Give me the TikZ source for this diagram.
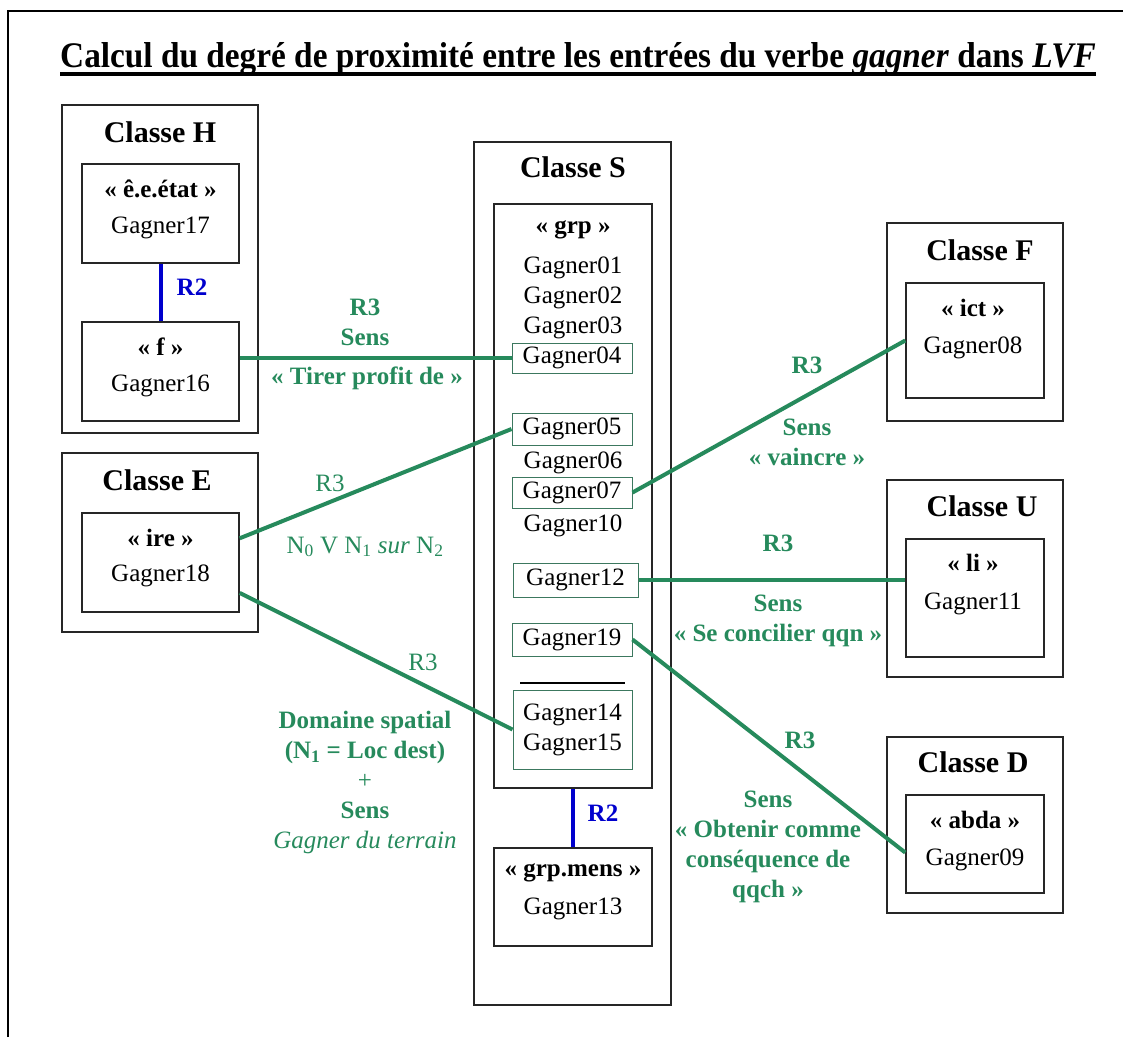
\documentclass[tikz,border=0pt]{standalone}
\usepackage{fontspec}
\usepackage{graphicx}
\setmainfont{Liberation Serif}
\usetikzlibrary{positioning}
\definecolor{relgreen}{RGB}{38,138,92}
\definecolor{relblue}{RGB}{0,0,205}
\definecolor{entbord}{RGB}{60,120,95}
\tikzset{
  clsbox/.style={draw=black!85, line width=1.5pt, inner sep=0pt},
  entbox/.style={draw=entbord, line width=1pt, inner sep=0pt, font=\fontsize{25}{30}\selectfont},
  txt/.style={font=\fontsize{25}{30}\selectfont, inner sep=0pt},
  stereo/.style={font=\bfseries\fontsize{25}{30}\selectfont, inner sep=0pt},
  clstitle/.style={font=\bfseries\fontsize{30}{34}\selectfont, inner sep=0pt},
  rlab/.style={text=relgreen, font=\bfseries\fontsize{25}{30}\selectfont, align=center, inner sep=0pt},
  rlabm/.style={rlab, font=\fontsize{25}{30}\selectfont},
  blab/.style={text=relblue, font=\bfseries\fontsize{25}{30}\selectfont, inner sep=0pt},
  rel/.style={draw=relgreen, line width=4pt},
  rtwo/.style={draw=relblue, line width=4pt},
}
\begin{document}
\begin{tikzpicture}[x=1pt,y=-1pt]
\useasboundingbox (0,0) rectangle (1123,1037);
\draw[line width=1.5pt] (8,1037) -- (8,11) -- (1123,11);

% title
\node[font=\bfseries\fontsize{36}{40}\selectfont, inner sep=0pt, anchor=base] (title) at (578,67)
  {\scalebox{0.925}[1]{Calcul du degré de proximité entre les entrées du verbe \textit{gagner} dans \textit{LVF}}};
\draw[line width=3.5pt] ([yshift=-7pt]title.base west) -- ([yshift=-7pt]title.base east);

% classe H
\node[clsbox, minimum width=196pt, minimum height=328pt] (clsH) at (160,269) {};
\node[clstitle] (tH) at (160,132) {Classe H};
\node[clsbox, minimum width=157pt, minimum height=99pt] (H1) at (160.5,213.5) {};
\node[stereo] (sH1) at (160.5,189) {« ê.e.état »};
\node[txt] (g17) at (160.5,228) {Gagner17};
\node[clsbox, minimum width=157pt, minimum height=99pt] (H2) at (160.5,371.5) {};
\node[stereo] (sH2) at (160.5,347) {« f »};
\node[txt] (g16) at (160.5,386) {Gagner16};

% classe E
\node[clsbox, minimum width=196pt, minimum height=179pt] (clsE) at (160,542.5) {};
\node[clstitle] (tE) at (157,480) {Classe E};
\node[clsbox, minimum width=157pt, minimum height=99pt] (E1) at (160.5,562.5) {};
\node[stereo] (sE1) at (160.5,538) {« ire »};
\node[txt] (g18) at (160.5,576) {Gagner18};

% classe S
\node[clsbox, minimum width=197pt, minimum height=863pt] (clsS) at (572.5,573.5) {};
\node[clstitle] (tS) at (573,167) {Classe S};
\node[clsbox, minimum width=158pt, minimum height=584pt] (S1) at (573,496) {};
\node[stereo] (sS1) at (573,230) {« grp »};
\node[txt] (g01) at (573,268) {Gagner01};
\node[txt] (g02) at (573,298) {Gagner02};
\node[txt] (g03) at (573,328) {Gagner03};
\node[entbox, minimum width=120pt, minimum height=30pt] (g04) at (572,358) {Gagner04};
\node[entbox, minimum width=120pt, minimum height=32pt] (g05) at (572,429) {Gagner05};
\node[txt] (g06) at (573,463) {Gagner06};
\node[entbox, minimum width=120pt, minimum height=31pt] (g07) at (572,492.5) {Gagner07};
\node[txt] (g10) at (573,526) {Gagner10};
\node[entbox, minimum width=125pt, minimum height=34pt] (g12) at (575.5,580) {Gagner12};
\node[entbox, minimum width=120pt, minimum height=33pt] (g19) at (572,639.5) {Gagner19};
\draw[line width=1.2pt] (520,683) -- (625,683);
\node[entbox, minimum width=119pt, minimum height=79pt, align=center] (g1415) at (572.5,729.5) {Gagner14\\Gagner15};
\node[clsbox, minimum width=158pt, minimum height=98pt] (S2) at (573,897) {};
\node[stereo] (sS2) at (573,873) {« grp.mens »};
\node[txt] (g13) at (573,909) {Gagner13};

% classes F, U, D
\node[clsbox, minimum width=176pt, minimum height=198pt] (clsF) at (975,322) {};
\node[clstitle] (tF) at (980,250) {Classe F};
\node[clsbox, minimum width=138pt, minimum height=115pt] (F1) at (975,340.5) {};
\node[stereo] (sF1) at (973,308) {« ict »};
\node[txt] (g08) at (973,348) {Gagner08};

\node[clsbox, minimum width=176pt, minimum height=197pt] (clsU) at (975,578.5) {};
\node[clstitle] (tU) at (982,506) {Classe U};
\node[clsbox, minimum width=138pt, minimum height=118pt] (U1) at (975,598) {};
\node[stereo] (sU1) at (973,563) {« li »};
\node[txt] (g11) at (973,604) {Gagner11};

\node[clsbox, minimum width=176pt, minimum height=176pt] (clsD) at (975,825) {};
\node[clstitle] (tD) at (973,762) {Classe D};
\node[clsbox, minimum width=138pt, minimum height=98pt] (D1) at (975,844) {};
\node[stereo] (sD1) at (975,820) {« abda »};
\node[txt] (g09) at (975,860) {Gagner09};

% relations
\draw[rtwo] (H1.south) -- (H2.north);
\draw[rtwo] (S1.south) -- (S2.north);
\draw[rel] (H2.east |- g04.west) -- (g04.west);
\draw[rel] (E1.17) -- (g05.west);
\draw[rel] (E1.-21) -- (g1415.west);
\draw[rel] (g07.east) -- (F1.west);
\draw[rel] (g12.east) -- (g12.east -| U1.west);
\draw[rel] (g19.east) -- (D1.187);

% labels
\node[blab] (lH) at (192,287) {R2};
\node[blab] (lS) at (603,813) {R2};
\node[rlab] (l04a) at (365,322) {R3\\Sens};
\node[rlab] (l04b) at (367,378) {« Tirer profit de »};
\node[rlabm] (l05a) at (330,483) {R3};
\node[rlabm] (l05b) at (365,547) {N\textsubscript{0} V N\textsubscript{1} \textit{sur} N\textsubscript{2}};
\node[rlabm] (l14a) at (423,662) {R3};
\node[rlab] (l14b) at (365,782.5) {Domaine spatial\\(N\textsubscript{1} = Loc dest)\\{\mdseries +}\\Sens\\{\mdseries\itshape Gagner du terrain}};
\node[rlab] (l07a) at (807,365) {R3};
\node[rlab] (l07b) at (807,442.5) {Sens\\« vaincre »};
\node[rlab] (l12a) at (778,543) {R3};
\node[rlab] (l12b) at (778,620.5) {Sens\\« Se concilier qqn »};
\node[rlab] (l19a) at (800,740) {R3};
\node[rlab] (l19b) at (768,847) {Sens\\« Obtenir comme\\conséquence de\\qqch »};
\end{tikzpicture}
\end{document}
